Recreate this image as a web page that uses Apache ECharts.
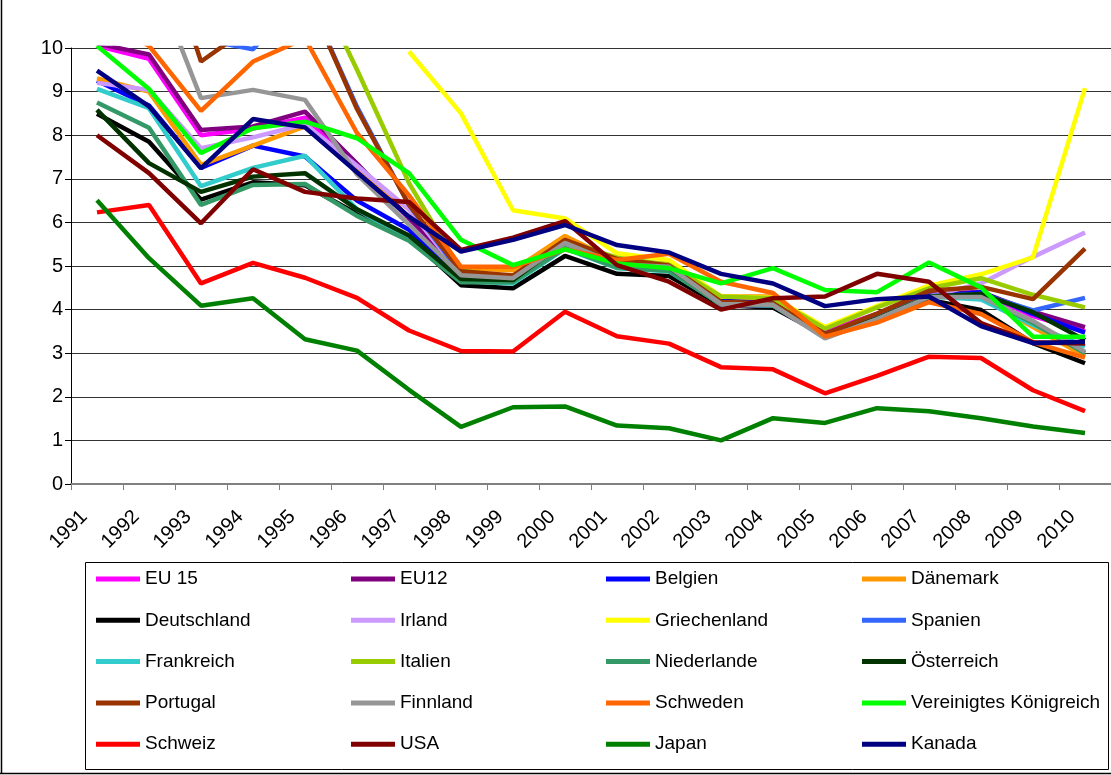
<!DOCTYPE html>
<html>
<head>
<meta charset="utf-8">
<script src="https://cdn.jsdelivr.net/npm/echarts@6/dist/echarts.min.js"></script>
<style>
html,body{margin:0;padding:0;background:#fff;}
#chart{width:1111px;height:775px;}
</style>
</head>
<body>
<div id="chart"></div>
<script>
var years = ['1991','1992','1993','1994','1995','1996','1997','1998','1999','2000','2001','2002','2003','2004','2005','2006','2007','2008','2009','2010'];
var yTicks = {min: 0, max: 10, interval: 1};

var seriesNames = ['EU 15','EU12','Belgien','Dänemark','Deutschland','Irland','Griechenland','Spanien','Frankreich','Italien','Niederlande','Österreich','Portugal','Finnland','Schweden','Vereinigtes Königreich','Schweiz','USA','Japan','Kanada'];
var seriesColors = ['#FF00FF','#800080','#0000FF','#FF9900','#000000','#CC99FF','#FFFF00','#3366FF','#33CCCC','#99CC00','#339966','#003300','#993300','#969696','#FF6600','#00FF00','#FF0000','#800000','#008000','#000080'];

var eu15        = [10.05, 9.75, 8.00, 8.15, 8.40, 7.30, 6.10, 4.85, 4.70, 5.45, 5.00, 4.90, 4.20, 4.20, 3.50, 3.90, 4.35, 4.40, 3.85, 3.50];
var eu12        = [10.10, 9.85, 8.12, 8.20, 8.54, 7.35, 6.10, 4.90, 4.70, 5.50, 5.00, 4.95, 4.20, 4.15, 3.45, 3.85, 4.35, 4.40, 3.95, 3.60];
var belgien     = [9.25, 8.68, 7.25, 7.76, 7.51, 6.50, 5.83, 4.75, 4.75, 5.60, 5.05, 4.95, 4.20, 4.15, 3.40, 3.80, 4.30, 4.40, 3.90, 3.47];
var daenemark   = [9.30, 9.00, 7.32, 7.76, 8.20, 7.20, 6.30, 4.95, 4.90, 5.69, 5.10, 5.05, 4.30, 4.30, 3.40, 3.80, 4.30, 4.28, 3.60, 2.93];
var deutschland = [8.49, 7.85, 6.52, 6.92, 6.85, 6.20, 5.65, 4.56, 4.49, 5.23, 4.82, 4.77, 4.10, 4.05, 3.40, 3.80, 4.22, 3.99, 3.23, 2.77];
var irland      = [9.20, 9.04, 7.70, 7.95, 8.25, 7.30, 6.30, 4.80, 4.70, 5.50, 5.00, 5.00, 4.10, 4.10, 3.35, 3.80, 4.30, 4.60, 5.21, 5.77];
var griechenland= [null, null, null, null, null, null, 9.92, 8.50, 6.28, 6.09, 5.29, 5.14, 4.30, 4.27, 3.60, 4.08, 4.55, 4.81, 5.20, 9.08];
var spanien     = [12.40, 11.70, 10.20, 9.97, 11.30, 8.65, 6.40, 4.83, 4.73, 5.53, 5.12, 4.96, 4.12, 4.10, 3.39, 3.79, 4.31, 4.36, 3.98, 4.27];
var frankreich  = [9.06, 8.62, 6.83, 7.25, 7.53, 6.30, 5.60, 4.65, 4.60, 5.40, 4.95, 4.88, 4.13, 4.10, 3.41, 3.80, 4.30, 4.23, 3.65, 3.15];
var italien     = [13.20, 13.30, 11.20, 10.50, 12.00, 9.50, 6.90, 4.90, 4.73, 5.58, 5.19, 5.03, 4.30, 4.26, 3.56, 4.05, 4.49, 4.72, 4.34, 4.05];
var niederlande = [8.75, 8.17, 6.40, 6.86, 6.88, 6.15, 5.58, 4.63, 4.63, 5.41, 4.96, 4.89, 4.12, 4.10, 3.37, 3.78, 4.29, 4.30, 3.69, 3.00];
var oesterreich = [8.58, 7.36, 6.70, 7.05, 7.13, 6.30, 5.70, 4.70, 4.68, 5.56, 5.08, 4.97, 4.15, 4.13, 3.39, 3.80, 4.30, 4.36, 3.94, 3.30];
var portugal    = [14.00, 13.30, 9.69, 10.53, 11.30, 8.60, 6.40, 4.88, 4.78, 5.60, 5.16, 5.01, 4.18, 4.14, 3.44, 3.91, 4.43, 4.52, 4.24, 5.40];
var finnland    = [11.80, 11.90, 8.85, 9.04, 8.81, 7.10, 5.95, 4.79, 4.72, 5.53, 5.04, 4.98, 4.13, 4.11, 3.34, 3.78, 4.29, 4.29, 3.74, 3.03];
var schweden    = [10.70, 10.05, 8.56, 9.69, 10.22, 8.05, 6.62, 4.98, 4.98, 5.38, 5.14, 5.28, 4.64, 4.38, 3.38, 3.70, 4.17, 3.90, 3.25, 2.90];
var vk          = [10.05, 9.06, 7.59, 8.16, 8.31, 7.93, 7.13, 5.60, 5.02, 5.38, 5.06, 4.95, 4.60, 4.95, 4.45, 4.40, 5.08, 4.51, 3.38, 3.38];
var schweiz     = [6.23, 6.40, 4.60, 5.07, 4.73, 4.27, 3.52, 3.05, 3.04, 3.95, 3.39, 3.22, 2.68, 2.63, 2.08, 2.48, 2.92, 2.89, 2.15, 1.67];
var usa         = [8.00, 7.13, 5.98, 7.22, 6.70, 6.55, 6.47, 5.37, 5.65, 6.03, 5.02, 4.64, 4.00, 4.26, 4.30, 4.82, 4.64, 3.69, 3.25, 3.22];
var japan       = [6.51, 5.18, 4.09, 4.26, 3.32, 3.06, 2.16, 1.31, 1.76, 1.78, 1.34, 1.28, 1.00, 1.51, 1.40, 1.74, 1.67, 1.51, 1.32, 1.17];
var kanada      = [9.48, 8.66, 7.24, 8.37, 8.18, 7.15, 6.13, 5.33, 5.60, 5.94, 5.48, 5.31, 4.82, 4.60, 4.08, 4.24, 4.30, 3.62, 3.23, 3.26];

var seriesData = [eu15, eu12, belgien, daenemark, deutschland, irland, griechenland, spanien, frankreich, italien, niederlande, oesterreich, portugal, finnland, schweden, vk, schweiz, usa, japan, kanada];

var FONT = '"Liberation Sans", Arial, sans-serif';

var series = seriesNames.map(function (name, i) {
  return {
    name: name,
    type: 'line',
    data: seriesData[i],
    symbol: 'none',
    clip: true,
    connectNulls: false,
    lineStyle: {width: 4.5, color: seriesColors[i]},
    itemStyle: {color: seriesColors[i]},
    emphasis: {disabled: true},
    animation: false
  };
});

var colLefts = [96, 351, 606, 862];
var legends = colLefts.map(function (left, c) {
  var names = [];
  for (var r = 0; r < 5; r++) names.push(seriesNames[r * 4 + c]);
  return {
    orient: 'vertical',
    left: left,
    top: 569,
    data: names,
    icon: 'rect',
    itemWidth: 44,
    itemHeight: 5,
    itemGap: 21.3,
    padding: 0,
    selectedMode: false,
    textStyle: {fontFamily: FONT, fontSize: 19, color: '#000', lineHeight: 20}
  };
});

var chart = echarts.init(document.getElementById('chart'), null, {renderer: 'canvas'});
chart.setOption({
  backgroundColor: '#fff',
  animation: false,
  grid: {left: 71, top: 48, width: 1042, height: 436, containLabel: false},
  legend: legends,
  xAxis: {
    type: 'category',
    data: years,
    boundaryGap: true,
    axisLine: {lineStyle: {color: '#808080', width: 2}},
    axisTick: {show: true, length: 6, alignWithLabel: false, lineStyle: {color: '#808080', width: 1}},
    axisLabel: {rotate: 45, margin: 17, padding: [0, 18, 0, 0], fontFamily: FONT, fontSize: 20, color: '#000', interval: 0}
  },
  yAxis: {
    type: 'value',
    min: yTicks.min,
    max: yTicks.max,
    interval: yTicks.interval,
    axisLine: {show: true, lineStyle: {color: '#000', width: 1}},
    axisTick: {show: true, length: 6, lineStyle: {color: '#000'}},
    axisLabel: {margin: 8, fontFamily: FONT, fontSize: 20, color: '#000'},
    splitLine: {show: true, lineStyle: {color: '#333', width: 1}}
  },
  graphic: [
    {type: 'rect', shape: {x: 85.5, y: 562.5, width: 1023, height: 207}, style: {fill: 'none', stroke: '#000', lineWidth: 1}, silent: true},
    {type: 'line', shape: {x1: 1.5, y1: 0, x2: 1.5, y2: 773.5}, style: {stroke: '#000', lineWidth: 1.5}, silent: true},
    {type: 'line', shape: {x1: 0, y1: 773.5, x2: 1111, y2: 773.5}, style: {stroke: '#000', lineWidth: 1.5}, silent: true}
  ],
  series: series
});
</script>
</body>
</html>
